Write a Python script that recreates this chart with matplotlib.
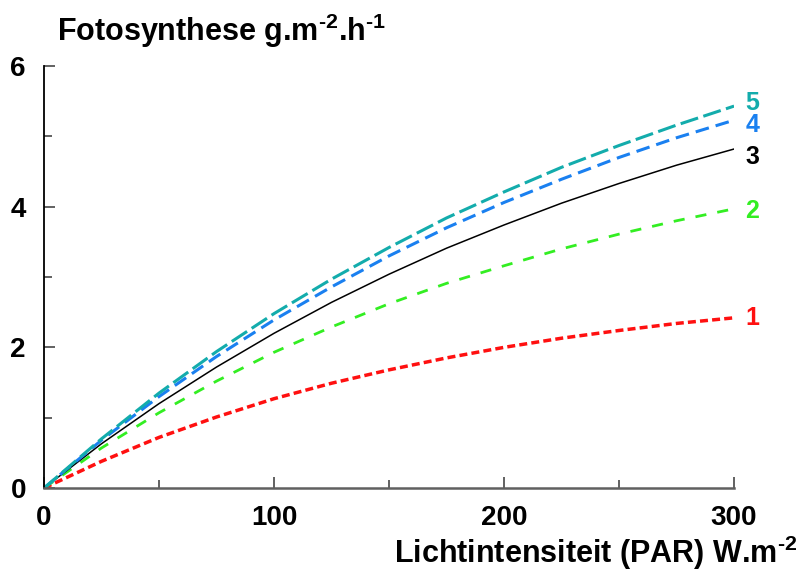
import matplotlib
matplotlib.use("Agg")
import matplotlib.pyplot as plt

# light intensity (PAR) W/m2
par = [0, 25, 50, 75, 100, 125, 150, 175, 200, 225, 250, 275, 300]

# photosynthesis g/m2/h for curves 1..5
curve1 = [0, 0.38, 0.72, 1.01, 1.27, 1.49, 1.68, 1.85, 2.00, 2.13, 2.24, 2.34, 2.42]
curve2 = [0, 0.57, 1.07, 1.52, 1.93, 2.29, 2.62, 2.91, 3.16, 3.40, 3.61, 3.80, 3.97]
curve3 = [0, 0.63, 1.20, 1.72, 2.20, 2.64, 3.04, 3.41, 3.74, 4.05, 4.33, 4.59, 4.82]
curve4 = [0, 0.68, 1.30, 1.87, 2.39, 2.86, 3.30, 3.70, 4.06, 4.39, 4.70, 4.98, 5.23]
curve5 = [0, 0.70, 1.35, 1.94, 2.48, 2.97, 3.42, 3.84, 4.21, 4.56, 4.87, 5.16, 5.43]

labels = ["1", "2", "3", "4", "5"]
xticks = [0, 100, 200, 300]
yticks = [0, 2, 4, 6]

plt.rcParams['font.family'] = ['Liberation Sans', 'DejaVu Sans']
plt.rcParams['font.weight'] = 'bold'
plt.rcParams['mathtext.fontset'] = 'custom'
plt.rcParams['mathtext.rm'] = 'Liberation Sans:bold'
plt.rcParams['mathtext.it'] = 'Liberation Sans:bold'
plt.rcParams['mathtext.default'] = 'rm'

fig = plt.figure(figsize=(8.02, 5.73), dpi=100)
ax = fig.add_axes([0.0549, 0.1483, 0.8604, 0.7365])

styles = [
    dict(color='#ff1010', lw=2.5, dashes=(2.3, 1.2)),
    dict(color='#33ee22', lw=2.0, dashes=(4, 4)),
    dict(color='black', lw=1.1),
    dict(color='#1a80f0', lw=2.2, dashes=(4.5, 2.3)),
    dict(color='#13acac', lw=2.2, dashes=(6, 1.8)),
]
label_dy = [0, -0.03, -0.11, -0.07, 0.05]

for ys, st, lab, dy in zip([curve1, curve2, curve3, curve4, curve5], styles, labels, label_dy):
    ax.plot(par, ys, **st)
    ax.text(par[-1] + 5, ys[-1] + dy, lab, color=st['color'], fontsize=18,
            fontweight='bold', va='center', ha='left', clip_on=False)

ax.set_xlim(0, 300)
ax.set_ylim(0, 6)
ax.spines['top'].set_visible(False)
ax.spines['right'].set_visible(False)
ax.spines['left'].set_linewidth(1.3)
ax.spines['bottom'].set_linewidth(1.8)
ax.spines['bottom'].set_color('#606060')

ax.set_xticks(xticks)
ax.set_yticks(yticks)
ax.set_xticks([50, 150, 250], minor=True)
ax.set_yticks([1, 3, 5], minor=True)
ax.tick_params(which='major', direction='in', length=8, width=1.3, color='#555555',
               labelsize=20, pad=12)
ax.tick_params(axis='y', which='major', pad=13)
ax.tick_params(which='minor', direction='in', length=5.5, width=1.3, color='#555555')

fig.text(0.071, 0.928, r'Fotosynthese g.m$^{\text{-2}}$.h$^{\text{-1}}$', fontsize=22,
         fontweight='bold', ha='left', va='baseline')
fig.text(0.994, 0.017, r'Lichtintensiteit (PAR) W.m$^{\text{-2}}$', fontsize=22,
         fontweight='bold', ha='right', va='baseline')

fig.savefig("out.png", dpi=100)
